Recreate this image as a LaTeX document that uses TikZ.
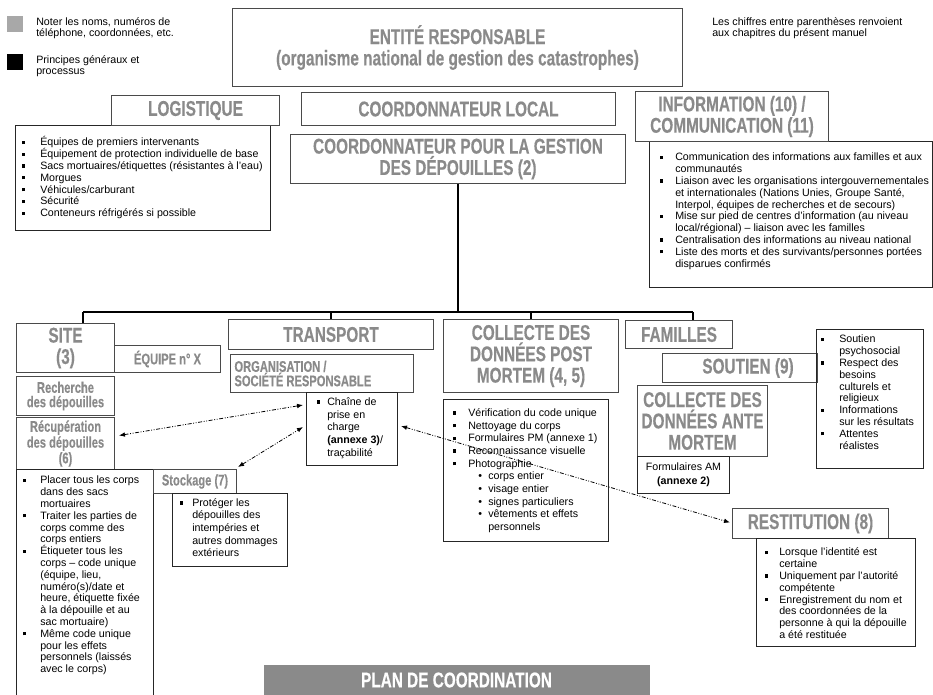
\documentclass[tikz,border=0pt]{standalone}
\usepackage{fontspec}
\setmainfont{Liberation Sans}
\newfontfamily\titrefont[FakeStretch=0.72, FakeBold=0.35]{Liberation Sans Bold}
\usepackage{tikz}
\usetikzlibrary{arrows.meta,positioning,calc}
\usepackage{xcolor}

\definecolor{titregris}{HTML}{8A8A8A}
\definecolor{bordgris}{HTML}{4A4A4A}
\definecolor{legendegris}{HTML}{A8A8A8}
\newlength{\px}\setlength{\px}{0.75pt}
\newcommand{\puce}[1][17]{\strut\makebox[#1\px][l]{\rule[1.4pt]{2.4pt}{2.4pt}}}
\newcommand{\suite}[1][17]{\strut\hspace*{#1\px}}
\newcommand{\sous}{\makebox[10\px][l]{•}}
\newcommand{\serre}{\setlength{\lineskiplimit}{-6pt}}

\begin{document}
\begin{tikzpicture}[x=0.75pt, y=-0.75pt]
\tikzset{taille/.style 2 args={minimum width=#1*0.75pt, minimum height=#2*0.75pt}}
\tikzset{titre/.style={draw=bordgris, line width=0.75pt, text=titregris, font=\titrefont\fontsize{16}{16}\selectfont, align=center, anchor=north west, inner sep=0pt}}
\tikzset{petittitre/.style={titre, font=\titrefont\fontsize{11.6}{10.8}\selectfont}}
\tikzset{cadre/.style={draw=black!85, line width=0.75pt, anchor=north west, inner sep=0pt}}
\tikzset{liste/.style={anchor=north west, inner sep=0pt, align=left, font=\fontsize{8}{8.85}\selectfont\serre}}
\tikzset{fleche/.style={{Latex[length=4.5pt,width=3.5pt]}-{Latex[length=4.5pt,width=3.5pt]}, line width=0.6pt, dash pattern=on 3pt off 1.2pt on 0.7pt off 1.2pt on 0.7pt off 1.2pt}}
\tikzset{trait/.style={line width=0.9pt}}
\useasboundingbox (0,0) rectangle (933,694);

% legende
\node[fill=legendegris, taille={16}{16}, inner sep=0pt, anchor=north west] (carregris) at (7,16) {};
\node[liste] (legende1) at (36,17) {Noter les noms, numéros de\\téléphone, coordonnées, etc.};
\node[fill=black, taille={16}{16}, inner sep=0pt, anchor=north west] (carrenoir) at (7,54) {};
\node[liste] (legende2) at (36,55) {Principes généraux et\\processus};
\node[liste] (note) at (712,17) {Les chiffres entre parenthèses renvoient\\aux chapitres du présent manuel};

% haut
\node[titre, taille={450}{78}] (entite) at (232,8) {ENTITÉ RESPONSABLE\\(organisme national de gestion des catastrophes)};
\node[titre, taille={314}{33}] (local) at (301,92) {COORDONNATEUR LOCAL};
\node[titre, taille={335}{49}] (gestion) at (290,134) {COORDONNATEUR POUR LA GESTION\\DES DÉPOUILLES (2)};
\node[cadre, taille={255}{105}] (logliste) at (15,125) {};
\node[titre, taille={168}{30}] (logistique) at (111,95) {LOGISTIQUE};
\node[liste] (logtexte) at ([shift={(7,11.4)}]logliste.north west) {\puce[18]Équipes de premiers intervenants\\\puce[18]Équipement de protection individuelle de base\\\puce[18]Sacs mortuaires/étiquettes (résistantes à l'eau)\\\puce[18]Morgues\\\puce[18]Véhicules/carburant\\\puce[18]Sécurité\\\puce[18]Conteneurs réfrigérés si possible};
\node[cadre, taille={283}{146}] (infoliste) at (649,141) {};
\node[titre, taille={193}{50}] (info) at (635,91) {INFORMATION (10) /\\COMMUNICATION (11)};
\node[liste] (infotexte) at ([shift={(11,11.4)}]infoliste.north west) {\puce[15]Communication des informations aux familles et aux\\\suite[15]communautés\\\puce[15]Liaison avec les organisations intergouvernementales\\\suite[15]et internationales (Nations Unies, Groupe Santé,\\\suite[15]Interpol, équipes de recherches et de secours)\\\puce[15]Mise sur pied de centres d'information (au niveau\\\suite[15]local/régional) – liaison avec les familles\\\puce[15]Centralisation des informations au niveau national\\\puce[15]Liste des morts et des survivants/personnes portées\\\suite[15]disparues confirmés};

% site
\node[titre, taille={98}{49}] (site) at (16,323) {SITE\\(3)};
\node[petittitre, taille={106}{27}] (equipe) at (114,345) {ÉQUIPE n° X};
\node[petittitre, taille={98}{39}] (recherche) at (16,376) {Recherche\\des dépouilles};
\node[petittitre, taille={98}{52}] (recup) at (16,417) {Récupération\\des dépouilles\\(6)};
\node[cadre, taille={137}{226}] (siteliste) at (16,469) {};
\node[liste] (sitetexte) at ([shift={(7,6.4)}]siteliste.north west) {\puce Placer tous les corps\\\suite dans des sacs\\\suite mortuaires\\\puce Traiter les parties de\\\suite corps comme des\\\suite corps entiers\\\puce Étiqueter tous les\\\suite corps – code unique\\\suite (équipe, lieu,\\\suite numéro(s)/date et\\\suite heure, étiquette fixée\\\suite à la dépouille et au\\\suite sac mortuaire)\\\puce Même code unique\\\suite pour les effets\\\suite personnels (laissés\\\suite avec le corps)};
\node[petittitre, taille={83}{24}] (stockage) at (153,469) {Stockage (7)};
\node[cadre, taille={115}{73}] (stockliste) at (172,493) {};
\node[liste, font=\fontsize{8}{9.4}\selectfont\serre] (stocktexte) at ([shift={(8,4.4)}]stockliste.north west) {\puce[12]Protéger les\\\suite[12]dépouilles des\\\suite[12]intempéries et\\\suite[12]autres dommages\\\suite[12]extérieurs};

% transport
\node[titre, taille={205}{30}] (transport) at (228,319) {TRANSPORT};
\node[petittitre, taille={183}{38}, text width=175*0.75pt, align=left] (organisation) at (230,354) {\spaceskip=0pt\relax ORGANISATION /\\SOCIÉTÉ RESPONSABLE};
\node[cadre, taille={91}{73}] (chaine) at (306,392) {};
\node[liste, font=\fontsize{8}{9.5}\selectfont\serre] (chainetexte) at ([shift={(11,4.4)}]chaine.north west) {\puce[10]Chaîne de\\\suite[10]prise en\\\suite[10]charge\\\suite[10]\textbf{(annexe 3)}/\\\suite[10]traçabilité};

% post mortem
\node[titre, taille={175}{73}] (postmortem) at (443,319) {COLLECTE DES\\DONNÉES POST\\MORTEM (4, 5)};
\node[cadre, taille={165}{142}] (pmliste) at (443,399) {};
\node[liste, font=\fontsize{8}{9.5}\selectfont\serre] (pmtexte) at ([shift={(10,8.4)}]pmliste.north west) {\puce[15]Vérification du code unique\\\puce[15]Nettoyage du corps\\\puce[15]Formulaires PM (annexe 1)\\\puce[15]Reconnaissance visuelle\\\puce[15]Photographie\\\suite[25]\sous corps entier\\\suite[25]\sous visage entier\\\suite[25]\sous signes particuliers\\\suite[25]\sous vêtements et effets\\\suite[35]personnels};

% familles
\node[titre, taille={107}{28}] (familles) at (625,320) {FAMILLES};
\node[titre, taille={155}{29}] (soutien) at (662,353) {\hspace*{16\px}SOUTIEN (9)};
\node[cadre, taille={107}{139}] (soutliste) at (816,329) {};
\node[liste] (souttexte) at ([shift={(5,5.4)}]soutliste.north west) {\puce[18]Soutien\\\suite[18]psychosocial\\\puce[18]Respect des\\\suite[18]besoins\\\suite[18]culturels et\\\suite[18]religieux\\\puce[18]Informations\\\suite[18]sur les résultats\\\puce[18]Attentes\\\suite[18]réalistes};
\node[titre, taille={130}{71}] (antemortem) at (637,385) {COLLECTE DES\\DONNÉES ANTE\\MORTEM};
\node[cadre, taille={92}{37}, align=center, font=\fontsize{8}{10.5}\selectfont] (formam) at (637,456) {Formulaires AM\\\textbf{(annexe 2)}};
\node[titre, taille={156}{30}] (restitution) at (732,508) {RESTITUTION (8)};
\node[cadre, taille={159}{108}] (restliste) at (756,538) {};
\node[liste] (resttexte) at ([shift={(9,9.4)}]restliste.north west) {\puce[14]Lorsque l'identité est\\\suite[14]certaine\\\puce[14]Uniquement par l'autorité\\\suite[14]compétente\\\puce[14]Enregistrement du nom et\\\suite[14]des coordonnées de la\\\suite[14]personne à qui la dépouille\\\suite[14]a été restituée};

\node[titre, draw=none, fill=titregris, text=white, taille={386}{31}] (plan) at (263,664) {PLAN DE COORDINATION};

% liaisons
\coordinate (busg) at (83,312);
\coordinate (busd) at (693,312);
\draw[trait] (gestion.south) -- (gestion.south |- busg);
\draw[trait] (busg) -- (busd);
\draw[trait] (busg) -- (site.north -| busg);
\draw[trait] (transport.north |- busg) -- (transport.north);
\draw[trait] (postmortem.north |- busg) -- (postmortem.north);
\draw[trait] (busd) -- (familles.north -| busd);

\draw[fleche] ([shift={(4,-8)}]recup.east) -- ([shift={(-3,13)}]chaine.north west);
\draw[fleche] ([shift={(1,-2)}]stockage.north east) -- ([shift={(-3,-2)}]chaine.west);
\draw[fleche] ([shift={(3,-3)}]chaine.east) -- ([shift={(-2,-1)}]restitution.west);
\end{tikzpicture}
\end{document}
